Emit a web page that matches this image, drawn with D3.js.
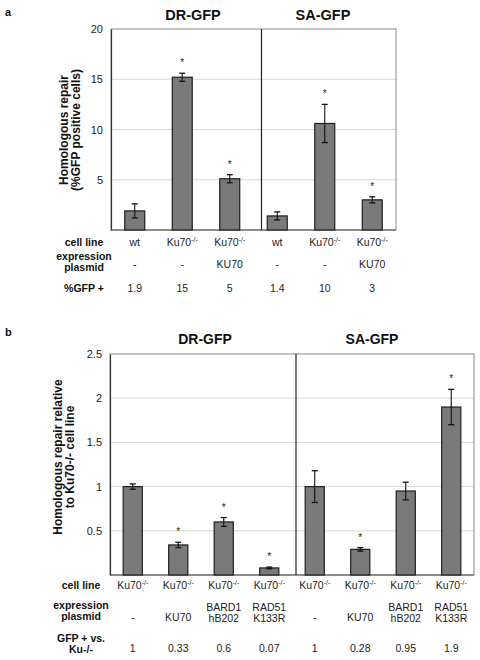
<!DOCTYPE html>
<html><head><meta charset="utf-8">
<script src="https://cdn.jsdelivr.net/npm/d3@7"></script>
<style>
html,body{margin:0;padding:0;background:#fff;}
svg{display:block;font-family:"Liberation Sans",Arial,Helvetica,sans-serif;}
</style></head>
<body>
<svg id="chart" width="480" height="660"></svg>
<script>
// ---- Panel a data ----
const cellLineA = ["wt", "Ku70-/-", "Ku70-/-", "wt", "Ku70-/-", "Ku70-/-"];
const plasmidA = ["-", "-", "KU70", "-", "-", "KU70"];
const gfpLabelA = ["1.9", "15", "5", "1.4", "10", "3"];
const valuesA = [1.9, 15.2, 5.1, 1.4, 10.6, 3.0];
const errorsA = [0.7, 0.4, 0.4, 0.4, 1.9, 0.3];
const starA = [false, true, true, false, true, true];
const ticksA = [5, 10, 15, 20];

// ---- Panel b data ----
const cellLineB = ["Ku70-/-", "Ku70-/-", "Ku70-/-", "Ku70-/-", "Ku70-/-", "Ku70-/-", "Ku70-/-", "Ku70-/-"];
const plasmidB = [["-"], ["KU70"], ["BARD1", "hB202"], ["RAD51", "K133R"], ["-"], ["KU70"], ["BARD1", "hB202"], ["RAD51", "K133R"]];
const ratioLabelB = ["1", "0.33", "0.6", "0.07", "1", "0.28", "0.95", "1.9"];
const valuesB = [1.0, 0.34, 0.6, 0.08, 1.0, 0.29, 0.95, 1.9];
const errorsB = [0.03, 0.03, 0.05, 0.01, 0.18, 0.02, 0.1, 0.2];
const starB = [false, true, true, true, false, true, false, true];
const ticksB = [0.5, 1, 1.5, 2, 2.5];

const groups = ["DR-GFP", "SA-GFP"];

const svg = d3.select("#chart");
const BAR_FILL = "#7a7a7a", BAR_STROKE = "#1e1e1e";

function cellText(sel, label) {
  const m = label.match(/^(.*?)(-\/-)$/);
  if (m) {
    sel.append("tspan").text(m[1]);
    sel.append("tspan").attr("font-size", 7).attr("dy", -4).text(m[2]);
  } else sel.text(label);
}

function panel(cfg) {
  const g = svg.append("g");
  const idx = d3.range(cfg.values.length);
  const x = d3.scaleBand().domain(idx).range([cfg.left, cfg.right]).paddingInner(0.58).paddingOuter(0.29);
  const step = x.step();
  const y = d3.scaleLinear().domain([0, cfg.max]).range([cfg.bottom, cfg.top]);

  g.selectAll("line.grid").data(cfg.ticks.filter(t => t < cfg.max)).join("line")
    .attr("x1", cfg.left).attr("x2", cfg.right)
    .attr("y1", d => y(d)).attr("y2", d => y(d))
    .attr("stroke", "#d8d8d8").attr("stroke-width", 1);

  g.append("rect").attr("x", cfg.left).attr("y", cfg.top)
    .attr("width", cfg.right - cfg.left).attr("height", cfg.bottom - cfg.top)
    .attr("fill", "none").attr("stroke", "#8a8a8a").attr("stroke-width", 1);
  g.append("line").attr("x1", cfg.left).attr("x2", cfg.right).attr("y1", cfg.bottom).attr("y2", cfg.bottom)
    .attr("stroke", "#555").attr("stroke-width", 1.2);

  const axis = d3.axisLeft(y).tickValues(cfg.ticks).tickSize(0).tickPadding(8).tickFormat(d3.format("~g"));
  const ag = g.append("g").attr("transform", `translate(${cfg.left},0)`).call(axis);
  ag.select(".domain").attr("stroke", "#333").attr("stroke-width", 1.2);
  ag.selectAll("text").attr("font-size", 11).attr("fill", "#222").attr("font-family", "Liberation Sans, Arial, sans-serif");

  const divX = x(cfg.values.length / 2) - (step - x.bandwidth()) / 2 + cfg.divOffset;
  g.append("line").attr("x1", divX).attr("x2", divX).attr("y1", cfg.top).attr("y2", cfg.bottom)
    .attr("stroke", "#222").attr("stroke-width", 1.2);

  g.selectAll("rect.bar").data(idx).join("rect")
    .attr("x", i => x(i)).attr("width", x.bandwidth())
    .attr("y", i => y(cfg.values[i])).attr("height", i => y(0) - y(cfg.values[i]))
    .attr("fill", BAR_FILL).attr("stroke", BAR_STROKE).attr("stroke-width", 1.2);

  const eb = g.selectAll("g.err").data(idx).join("g");
  const cx = i => x(i) + x.bandwidth() / 2;
  eb.append("line").attr("x1", cx).attr("x2", cx)
    .attr("y1", i => y(cfg.values[i] + cfg.errors[i])).attr("y2", i => y(cfg.values[i] - cfg.errors[i]))
    .attr("stroke", "#111").attr("stroke-width", 1.1);
  [1, -1].forEach(s => {
    eb.append("line").attr("x1", i => cx(i) - 3).attr("x2", i => cx(i) + 3)
      .attr("y1", i => y(cfg.values[i] + s * cfg.errors[i])).attr("y2", i => y(cfg.values[i] + s * cfg.errors[i]))
      .attr("stroke", "#111").attr("stroke-width", 1.3);
  });

  g.selectAll("text.star").data(idx.filter(i => cfg.stars[i])).join("text")
    .attr("x", cx).attr("y", i => y(cfg.values[i] + cfg.errors[i]) - 7)
    .attr("text-anchor", "middle").attr("font-size", 10).attr("fill", "#222").text("*");

  g.selectAll("text.title").data(groups).join("text")
    .attr("x", (d, k) => cfg.titleX[k]).attr("y", cfg.titleY)
    .attr("text-anchor", "middle").attr("font-weight", "bold").attr("font-size", cfg.titleSize)
    .attr("fill", "#111").text(d => d);

  const yl = g.append("text").attr("transform", `translate(${cfg.ylabX},${cfg.ylabY}) rotate(-90)`)
    .attr("text-anchor", "middle").attr("font-weight", "bold").attr("font-size", 12).attr("fill", "#111");
  cfg.ylab.forEach((t, k) => yl.append("tspan").attr("x", 0).attr("dy", k === 0 ? 0 : 12).text(t));

  g.append("text").attr("x", 5).attr("y", cfg.letterY).attr("font-weight", "bold").attr("font-size", 11)
    .attr("fill", "#111").text(cfg.letter);

  cfg.rows.forEach(r => {
    const lt = g.append("text").attr("x", cfg.rowLabelX).attr("y", r.y).attr("text-anchor", "middle")
      .attr("font-weight", "bold").attr("font-size", 10.5).attr("fill", "#111");
    r.label.forEach((t, k) => lt.append("tspan").attr("x", cfg.rowLabelX).attr("dy", k === 0 ? 0 : 11).text(t));
    idx.forEach(i => {
      const v = r.values[i];
      const t = g.append("text").attr("x", cx(i)).attr("text-anchor", "middle")
        .attr("font-size", 10.5).attr("fill", "#222");
      if (Array.isArray(v)) {
        const y0 = v.length === 1 ? r.singleY : r.valueY;
        t.attr("y", y0);
        v.forEach((s, k) => t.append("tspan").attr("x", cx(i)).attr("dy", k === 0 ? 0 : 11).text(s));
      } else {
        t.attr("y", r.valueY);
        cellText(t, v);
      }
    });
  });
}

panel({
  letter: "a", letterY: 16,
  values: valuesA, errors: errorsA, stars: starA, ticks: ticksA, max: 20,
  left: 111, right: 396, top: 29, bottom: 230, divOffset: 8,
  titleX: [193, 323], titleY: 20, titleSize: 14.5,
  ylab: ["Homologous repair", "(%GFP positive cells)"], ylabX: 68, ylabY: 130,
  rowLabelX: 84,
  rows: [
    { label: ["cell line"], y: 246, values: cellLineA, valueY: 246 },
    { label: ["expression", "plasmid"], y: 259.5, values: plasmidA.map(p => [p]), valueY: 268, singleY: 268 },
    { label: ["%GFP +"], y: 292, values: gfpLabelA, valueY: 292 }
  ]
});

panel({
  letter: "b", letterY: 336,
  values: valuesB, errors: errorsB, stars: starB, ticks: ticksB, max: 2.5,
  left: 110, right: 474, top: 354, bottom: 575, divOffset: 4,
  titleX: [205, 372], titleY: 344, titleSize: 14,
  ylab: ["Homologous repair relative", "to Ku70-/- cell line"], ylabX: 62, ylabY: 457,
  rowLabelX: 81,
  rows: [
    { label: ["cell line"], y: 589, values: cellLineB, valueY: 589 },
    { label: ["expression", "plasmid"], y: 609, values: plasmidB, valueY: 611, singleY: 621 },
    { label: ["GFP + vs.", "Ku-/-"], y: 642, values: ratioLabelB, valueY: 652 }
  ]
});
</script>
</body></html>
